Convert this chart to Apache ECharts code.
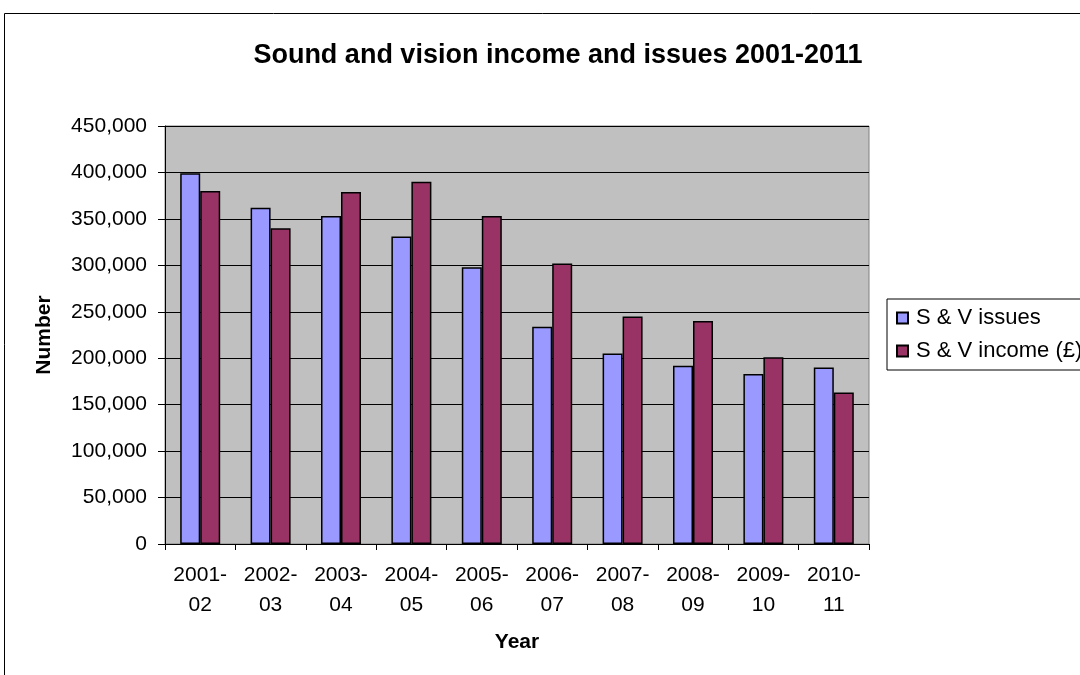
<!DOCTYPE html>
<html>
<head>
<meta charset="utf-8">
<script src="https://cdn.jsdelivr.net/npm/echarts@6/dist/echarts.min.js"></script>
<style>
html,body{margin:0;padding:0;background:#fff;}
#chart{width:1080px;height:675px;}
</style>
</head>
<body>
<div id="chart"></div>
<script>
const titleText = 'Sound and vision income and issues 2001-2011';
const categories = ['2001-\n02','2002-\n03','2003-\n04','2004-\n05','2005-\n06','2006-\n07','2007-\n08','2008-\n09','2009-\n10','2010-\n11'];
const seriesNames = ['S & V issues', 'S & V income (£)'];
const issues = [399000, 362000, 353000, 331000, 298000, 234000, 205000, 192000, 183000, 190000];
const income = [380000, 340000, 379000, 390000, 353000, 302000, 245000, 240000, 201000, 163000];
const yMin = 0, yMax = 450000, yStep = 50000;
const xAxisTitle = 'Year';
const yAxisTitle = 'Number';

const FONT = '"Liberation Sans", Arial, sans-serif';
const chart = echarts.init(document.getElementById('chart'), null, {renderer: 'canvas'});

chart.setOption({
  animation: false,
  backgroundColor: '#ffffff',
  textStyle: {fontFamily: FONT, color: '#000'},
  title: {
    text: titleText,
    left: 553,
    top: 37,
    textAlign: 'center',
    textStyle: {fontFamily: FONT, fontSize: 27, fontWeight: 'bold', color: '#000'}
  },
  graphic: [{
    type: 'rect',
    shape: {x: 4.5, y: 13.5, width: 1200, height: 800},
    style: {fill: 'none', stroke: '#000', lineWidth: 1},
    silent: true, z: -10
  }],
  legend: {
    orient: 'vertical',
    left: 887,
    top: 299,
    padding: [8, 10, 8, 9],
    itemGap: 11,
    itemWidth: 11,
    itemHeight: 11,
    icon: 'rect',
    borderColor: '#000',
    borderWidth: 1,
    backgroundColor: '#fff',
    textStyle: {fontFamily: FONT, fontSize: 22, color: '#000', lineHeight: 22, padding: [0, 0, 0, 3]},
    data: seriesNames
  },
  grid: {
    left: 165, right: 211, top: 126, bottom: 131,
    show: true,
    backgroundColor: '#C0C0C0',
    borderColor: '#808080',
    borderWidth: 1
  },
  xAxis: {
    type: 'category',
    data: categories,
    boundaryGap: true,
    name: xAxisTitle,
    nameLocation: 'middle',
    nameGap: 88,
    nameTextStyle: {fontFamily: FONT, fontSize: 21, fontWeight: 'bold', color: '#000'},
    axisLine: {show: true, lineStyle: {color: '#000', width: 1}},
    axisTick: {show: true, length: 6, lineStyle: {color: '#000'}},
    axisLabel: {fontFamily: FONT, fontSize: 21, color: '#000', lineHeight: 30, margin: 16, interval: 0},
    splitLine: {show: false}
  },
  yAxis: {
    type: 'value',
    min: yMin, max: yMax, interval: yStep,
    name: yAxisTitle,
    nameLocation: 'middle',
    nameRotate: 90,
    nameGap: 110,
    nameTextStyle: {fontFamily: FONT, fontSize: 21, fontWeight: 'bold', color: '#000'},
    axisLine: {show: true, lineStyle: {color: '#000', width: 1}},
    axisTick: {show: true, length: 7, lineStyle: {color: '#000'}},
    axisLabel: {
      fontFamily: FONT, fontSize: 21, color: '#000', margin: 18,
      formatter: v => v.toLocaleString('en-US')
    },
    splitLine: {show: true, lineStyle: {color: '#000', width: 1}}
  },
  series: [
    {
      name: seriesNames[0], type: 'bar', data: issues,
      barWidth: 20, barGap: '0%',
      itemStyle: {color: '#9999FF', borderColor: '#000', borderWidth: 1.5}
    },
    {
      name: seriesNames[1], type: 'bar', data: income,
      barWidth: 20, barGap: '0%',
      itemStyle: {color: '#993366', borderColor: '#000', borderWidth: 1.5}
    }
  ]
});
</script>
</body>
</html>
